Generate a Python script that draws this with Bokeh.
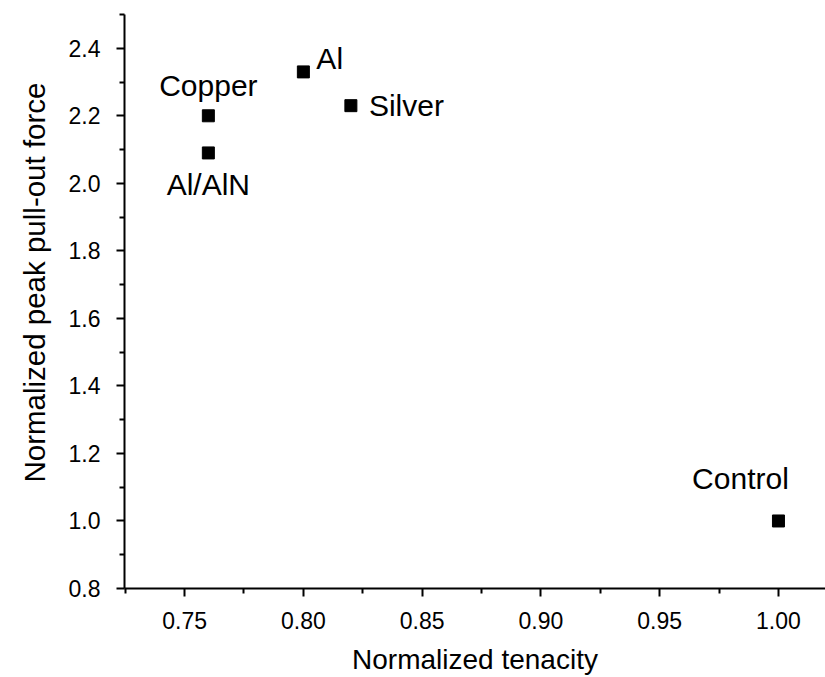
from bokeh.plotting import figure
from bokeh.models import Range1d, ColumnDataSource, FixedTicker, Label, Title
from bokeh.embed import file_html
from bokeh.resources import INLINE

# data
names = ["Copper", "Al/AlN", "Al", "Silver", "Control"]
tenacity = [0.76, 0.76, 0.80, 0.82, 1.00]
pullout = [2.20, 2.09, 2.33, 2.23, 1.00]
x_ticks = [0.75, 0.80, 0.85, 0.90, 0.95, 1.00]
y_ticks = [0.8, 1.0, 1.2, 1.4, 1.6, 1.8, 2.0, 2.2, 2.4]
x_title = "Normalized tenacity"
y_title = "Normalized peak pull-out force"

FONT = "Liberation Sans"
X0, X1 = 0.7247, 1.0198
Y0, Y1 = 0.8, 2.5

p = figure(width=825, height=677, output_backend="svg", toolbar_location=None,
           x_range=Range1d(X0, X1), y_range=Range1d(Y0, Y1),
           min_border_left=124, min_border_right=0, min_border_top=14, min_border_bottom=87)
p.outline_line_color = None
p.grid.visible = False
p.background_fill_color = "white"
p.border_fill_color = "white"

p.xaxis.ticker = FixedTicker(ticks=x_ticks, minor_ticks=[0.725, 0.775, 0.825, 0.875, 0.925, 0.975])
p.yaxis.ticker = FixedTicker(ticks=y_ticks, minor_ticks=[0.9, 1.1, 1.3, 1.5, 1.7, 1.9, 2.1, 2.3, 2.5])
p.xaxis.major_label_overrides = {t: f"{t:.2f}" for t in x_ticks}
p.yaxis.major_label_overrides = {t: f"{t:.1f}" for t in y_ticks}

for ax in (p.xaxis[0], p.yaxis[0]):
    ax.axis_line_width = 2
    ax.axis_line_color = "black"
    ax.major_tick_line_width = 2
    ax.minor_tick_line_width = 2
    ax.major_tick_line_color = "black"
    ax.minor_tick_line_color = "black"
    ax.major_tick_out = 8
    ax.major_tick_in = 0
    ax.minor_tick_out = 5
    ax.minor_tick_in = 0
    ax.major_label_text_font = FONT
    ax.major_label_text_font_size = "23px"
    ax.major_label_text_color = "black"
    ax.axis_label_text_font = FONT
    ax.axis_label_text_font_style = "normal"
    ax.axis_label_text_color = "black"

p.xaxis.axis_label = x_title
p.xaxis.axis_label_text_font_size = "28px"
p.xaxis.major_label_standoff = 15
p.yaxis.major_label_standoff = 16
p.xaxis.axis_label_standoff = 12

# y-axis title: placed as a left-side title anchored near the top, like the reference
p.add_layout(Title(text=y_title, align="right", offset=68, text_font=FONT,
                   text_font_size="29.5px", text_font_style="normal", text_color="black",
                   standoff=30), "left")

src = ColumnDataSource(dict(x=tenacity, y=pullout, name=names))
p.scatter("x", "y", source=src, marker="square", size=12, color="black")

# label placement per point (offsets in screen pixels, positive y = up)
placement = {
    "Copper": dict(x_offset=0, y_offset=30, text_align="center"),
    "Al/AlN": dict(x_offset=0, y_offset=-32, text_align="center"),
    "Al": dict(x_offset=13, y_offset=13, text_align="left"),
    "Silver": dict(x_offset=18, y_offset=0, text_align="left"),
    "Control": dict(x_offset=-38, y_offset=42, text_align="center"),
}
for n, xv, yv in zip(names, tenacity, pullout):
    kw = placement[n]
    p.add_layout(Label(x=xv, y=yv, text=n, text_font=FONT, text_font_size="30px",
                       text_color="black", text_baseline="middle", **kw))

open("out.html", "w").write(file_html(p, INLINE))
